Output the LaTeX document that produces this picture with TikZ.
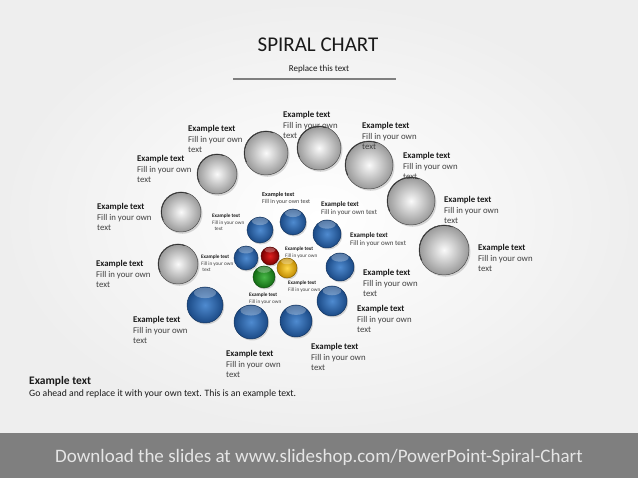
\documentclass[tikz,border=0pt]{standalone}
\usepackage{fontspec}
\setmainfont{Carlito}
\usetikzlibrary{shadows}
\definecolor{bandgray}{HTML}{7F7F7F}
\definecolor{bgout}{HTML}{EEEEEE}
\definecolor{txtgray}{HTML}{404040}
\definecolor{txtdark}{HTML}{1A1A1A}
\definecolor{blueout}{HTML}{1B4A86}
\definecolor{bluein}{HTML}{4F8BD0}
\definecolor{redout}{HTML}{7A0000}
\definecolor{redin}{HTML}{E02020}
\definecolor{yelout}{HTML}{C08A00}
\definecolor{yelin}{HTML}{FFD84A}
\definecolor{grnout}{HTML}{136B13}
\definecolor{grnin}{HTML}{48B848}
\tikzset{
  labA/.style={anchor=north west, inner sep=0pt, align=left, text=txtgray, font=\fontsize{8.8}{10.7}\selectfont},
  labB/.style={anchor=north west, inner sep=0pt, align=left, text=txtgray, font=\fontsize{7}{8.4}\selectfont},
  labC/.style={anchor=north west, inner sep=0pt, align=left, text=txtgray, font=\fontsize{6}{7.3}\selectfont},
  labD/.style={anchor=north west, inner sep=0pt, align=left, text=txtgray, font=\fontsize{5.2}{6.4}\selectfont},
  gball/.style={circle, inner sep=0pt, minimum size={2*#1pt}, inner color=white!96!gray, outer color=black!40, draw=black!70, line width=0.5pt,
    drop shadow={opacity=0.3, shadow xshift=1.5pt, shadow yshift=-1.8pt},
    path picture={\draw[black!85, line width=1.6pt] ([shift={(205:#1pt)}]path picture bounding box.center) arc (205:70:#1pt);}},
  cball/.style 2 args={circle, inner sep=0pt, minimum size={2*#1pt}, inner color=#2in, outer color=#2out, draw=#2out!70!black, line width=0.5pt,
    drop shadow={opacity=0.3, shadow xshift=1.2pt, shadow yshift=-1.5pt},
    path picture={\fill[white, opacity=0.28] ([yshift={-0.32*#1pt}]path picture bounding box.north) ellipse ({0.62*#1pt} and {0.3*#1pt});}},
}
\newcommand{\exlab}[1]{{\color{txtdark}\bfseries Example text}\\#1}
\begin{document}
\begin{tikzpicture}[x=1pt, y=-1pt]
\useasboundingbox (0,0) rectangle (638,478);
\shade[inner color=white, outer color=bgout] (0,0) rectangle (638,433);
\fill[bandgray] (0,433) rectangle (638,478);

% title
\node[font=\fontsize{21}{24}\selectfont, text=txtdark] (title) at (318,45) {SPIRAL CHART};
\node[font=\fontsize{9}{11}\selectfont, text=txtdark] (sub) at (319,69) {Replace this text};
\coordinate (ul1) at (233,79);
\coordinate (ul2) at (396,79);
\draw[bandgray, line width=1.3pt] (ul1) -- (ul2);

% gray balls
\node[gball=20] (g1) at (181,212) {};
\node[gball=20] (g2) at (178,264) {};
\node[gball=20] (g3) at (217,174) {};
\node[gball=22] (g4) at (266,153) {};
\node[gball=22] (g5) at (319,148) {};
\node[gball=24] (g6) at (369,165) {};
\node[gball=24] (g7) at (411,201) {};
\node[gball=25] (g8) at (444,250) {};

% blue balls
\node[cball={18}{blue}] (b1) at (205,305) {};
\node[cball={17}{blue}] (b2) at (251,322) {};
\node[cball={16}{blue}] (b3) at (296,321) {};
\node[cball={15}{blue}] (b4) at (332,301) {};
\node[cball={14}{blue}] (b5) at (340,267) {};
\node[cball={14}{blue}] (b6) at (327,234) {};
\node[cball={13}{blue}] (b7) at (293,222) {};
\node[cball={13}{blue}] (b8) at (260,230) {};
\node[cball={12}{blue}] (b9) at (246,258) {};

% small colored balls
\node[cball={9}{red}] (r1) at (270,256) {};
\node[cball={10}{yel}] (y1) at (287,268) {};
\node[cball={11}{grn}] (gr1) at (264,277) {};

% gray labels
\node[labA] (lg1) at (97,203) {\exlab{Fill in your own\\text}};
\node[labA] (lg2) at (96,260) {\exlab{Fill in your own\\text}};
\node[labA] (lg3) at (137,155) {\exlab{Fill in your own\\text}};
\node[labA] (lg4) at (188,125) {\exlab{Fill in your own\\text}};
\node[labA] (lg5) at (283,111) {\exlab{Fill in your own\\text}};
\node[labA] (lg6) at (362,122) {\exlab{Fill in your own\\text}};
\node[labA] (lg7) at (403,152) {\exlab{Fill in your own\\text}};
\node[labA] (lg8) at (444,196) {\exlab{Fill in your own\\text}};
\node[labA] (lg9) at (478,244) {\exlab{Fill in your own\\text}};

% blue labels
\node[labA] (lb1) at (133,316) {\exlab{Fill in your own\\text}};
\node[labA] (lb2) at (226,350) {\exlab{Fill in your own\\text}};
\node[labA] (lb3) at (311,343) {\exlab{Fill in your own\\text}};
\node[labA] (lb4) at (357,305) {\exlab{Fill in your own\\text}};
\node[labA] (lb5) at (363,269) {\exlab{Fill in your own\\text}};
\node[labB] (lb6) at (350,232) {\exlab{Fill in your own text}};
\node[labB] (lb7) at (321,201) {\exlab{Fill in your own text}};
\node[labC] (lb8) at (262,192) {\exlab{Fill in your own text}};
\node[labD] (lb9) at (212,214) {\exlab{Fill in your own\\\ \ text}};
\node[labD] (lb10) at (201,255) {\exlab{Fill in your own\\\ text}};

% small ball labels
\node[labD] (ls1) at (285,247) {\exlab{Fill in your own}};
\node[labD] (ls2) at (288,281) {\exlab{Fill in your own}};
\node[labD] (ls3) at (249,293) {\exlab{Fill in your own}};

% bottom text
\node[anchor=north west, inner sep=0pt, align=left, text=txtdark, font=\fontsize{11.5}{13}\selectfont\bfseries] (bt1) at (29,376) {Example text};
\node[anchor=north west, inner sep=0pt, align=left, text=txtdark, font=\fontsize{9.7}{11}\selectfont] (bt2) at (29,390) {Go ahead and replace it with your own text. This is an example text.};

% banner text
\node[text=white!90!black, font=\fontsize{19}{22}\selectfont] (banner) at (319,457) {Download the slides at www.slideshop.com/PowerPoint-Spiral-Chart};
\end{tikzpicture}
\end{document}
